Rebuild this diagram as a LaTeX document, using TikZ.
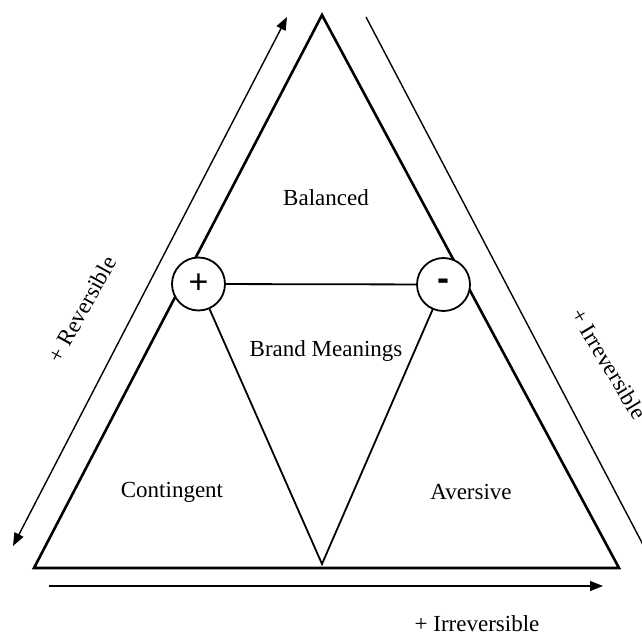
\documentclass[tikz,border=0pt]{standalone}
\usepackage{fontspec}
\setmainfont{Liberation Serif}
\newfontfamily\signfont{Liberation Sans}
\usetikzlibrary{arrows.meta}
\begin{document}
\begin{tikzpicture}[x=1pt,y=-1pt,
  outer/.style={line width=2.6pt,line join=miter},
  inner/.style={line width=1.8pt},
  sign/.style={circle,draw,fill=white,line width=1.8pt,minimum size=53pt,inner sep=0pt},
  lbl/.style={font=\fontsize{23}{27}\selectfont,inner sep=0pt},
  arr/.style={line width=1.4pt,-{Triangle[length=13pt,width=10pt]}},
  darr/.style={line width=1.4pt,{Triangle[length=13pt,width=10pt]}-{Triangle[length=13pt,width=10pt]}}]
\useasboundingbox (0,0) rectangle (642,636);
% outer triangle
\coordinate (A) at (322,15);
\coordinate (BL) at (34,568);
\coordinate (BR) at (619,568);
\coordinate (V) at (322,564);
\coordinate (Pc) at (198.5,284);
\coordinate (Mc) at (443.5,284.5);
\draw[outer] (A) -- (BL) -- (BR) -- cycle;
\draw[inner] (Pc) -- (V) -- (Mc);
\draw[inner] (Pc) -- (Mc);
\node[sign] (P) at (Pc) {\signfont\fontsize{34}{34}\selectfont +};
\node[sign] (M) at (Mc) {\signfont\bfseries\fontsize{36}{36}\selectfont -};
% labels
\node[lbl] (bal) at (326,198) {Balanced};
\node[lbl] (brand) at (326,351) {Brand Meanings};
\node[lbl] (cont) at (172,492) {Contingent};
\node[lbl] (aver) at (471,492) {Aversive};
% arrows
\coordinate (L1) at (13,546);
\coordinate (L2) at (287,17);
\draw[darr] (L1) -- (L2);
\coordinate (B1) at (49,586);
\coordinate (B2) at (603,586);
\draw[arr] (B1) -- (B2);
\coordinate (R1) at (366,17);
\coordinate (R2) at (650,558);
\draw[line width=1.4pt] (R1) -- (R2);
\node[lbl,rotate=61] (rev) at (82,309) {+ Reversible};
\node[lbl,rotate=-59] (irr1) at (609,364) {+ Irreversible};
\node[lbl] (irr2) at (477,624) {+ Irreversible};
\end{tikzpicture}
\end{document}
